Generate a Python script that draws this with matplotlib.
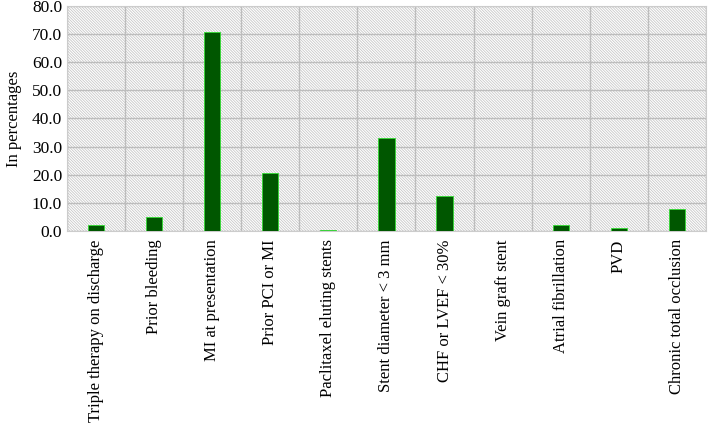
import matplotlib
matplotlib.use('Agg')
import matplotlib.pyplot as plt
import numpy as np

categories = ['Triple therapy on discharge', 'Prior bleeding', 'MI at presentation',
              'Prior PCI or MI', 'Paclitaxel eluting stents', 'Stent diameter < 3 mm',
              'CHF or LVEF < 30%', 'Vein graft stent', 'Atrial fibrillation', 'PVD',
              'Chronic total occlusion']
percentages = [2.0, 5.1, 70.8, 20.5, 0.5, 33.2, 12.5, 0.0, 2.0, 1.0, 7.7]
y_ticks = [0, 10, 20, 30, 40, 50, 60, 70, 80]

plt.rcParams['font.family'] = ['Liberation Serif', 'DejaVu Serif']
plt.rcParams['hatch.linewidth'] = 0.6

fig = plt.figure(figsize=(7.08, 4.23), dpi=100)
ax = fig.add_axes([0.0946, 0.454, 0.9024, 0.532])

x = np.arange(len(categories))
ax.set_xlim(-0.5, len(categories) - 0.5)
ax.set_ylim(0, 80)

# hatched background
ax.bar(x, [80] * len(x), width=1.0, color='white', edgecolor='#c8c8c8',
       linewidth=0, hatch='\\' * 12, zorder=0)

ax.bar(x, percentages, width=0.28, color='#005700', edgecolor='#33dd33',
       linewidth=0.6, zorder=3)

ax.set_yticks(y_ticks)
ax.set_yticklabels(['%.1f' % v for v in y_ticks], fontsize=12.5)
ax.set_xticks(x)
ax.set_xticklabels(categories, rotation=90, fontsize=12, va='top')
ax.set_xticks(np.arange(len(categories) + 1) - 0.5, minor=True)
ax.tick_params(axis='both', which='both', length=0)
ax.tick_params(axis='x', pad=6)
ax.grid(True, axis='y', color='#bdbdbd', linewidth=1, zorder=1)
ax.grid(True, axis='x', which='minor', color='#bdbdbd', linewidth=1, zorder=1)
ax.set_axisbelow(True)
for s in ax.spines.values():
    s.set_color('#cccccc')

ax.set_ylabel('In percentages', fontsize=12, labelpad=7)

fig.savefig('out.png', dpi=100)
